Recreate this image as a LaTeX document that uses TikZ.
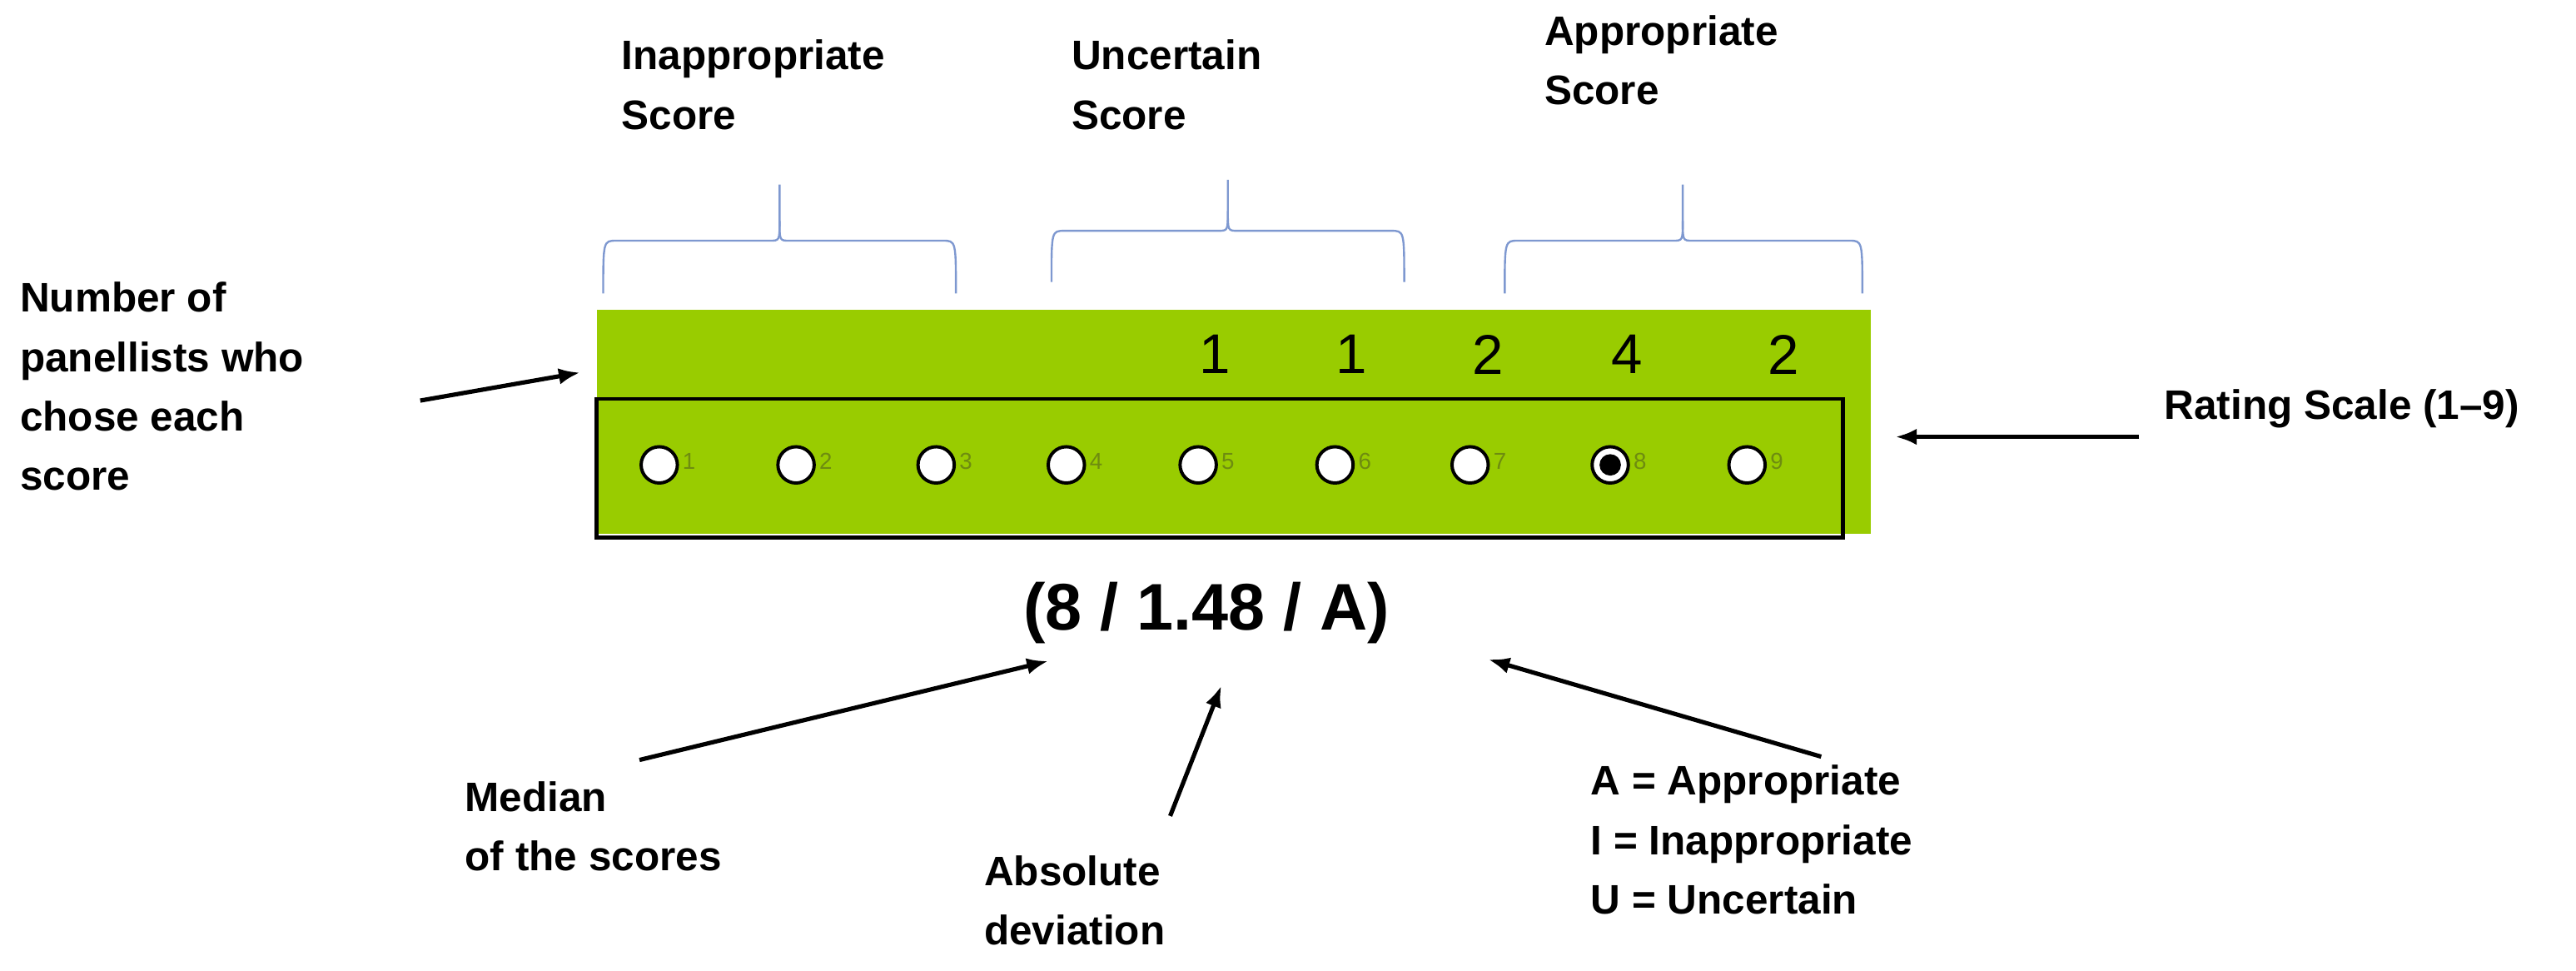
\documentclass[tikz,border=0pt]{standalone}
\usepackage{fontspec}
\setmainfont{Liberation Sans}
\usetikzlibrary{arrows.meta}
\definecolor{grn}{HTML}{99CC00}
\definecolor{brc}{HTML}{7E98D0}
\definecolor{lbl}{HTML}{6E8C10}
\begin{document}
\begin{tikzpicture}[x=1pt,y=-1pt,
  lab/.style={font=\fontsize{25}{36}\selectfont\bfseries,align=left,inner sep=0pt},
  arr/.style={line width=2.6pt,-{Latex[length=13pt,width=10pt]}},
  brace/.style={draw=brc,line width=1.2pt},
  cnt/.style={font=\fontsize{34}{34}\selectfont,inner sep=0pt},
  dot/.style={circle,draw=black,line width=2pt,fill=white,minimum size=22pt,inner sep=0pt},
  num/.style={font=\fontsize{14}{14}\selectfont,text=lbl,inner sep=0pt}]
\useasboundingbox (0,0) rectangle (1563,589);
% green bar
\fill[grn] (362,188) rectangle (1135,324);
\draw[line width=2.4pt] (362,242) rectangle (1118,326);
% counts
\foreach \x/\n/\i in {737/1/a,820/1/b,903/2/c,987/4/d,1082/2/e}
  \node[cnt] (c\i) at (\x,215) {\n};
% circles
\foreach \x/\i in {400/1,483/2,568/3,647/4,727/5,810/6,892/7,977/8,1060/9}{
  \node[dot] (d\i) at (\x,282) {};
  \node[num,anchor=west] (n\i) at (\x+14,280) {\i};
}
\fill (d8.center) circle (6.5pt);
% braces
\foreach \a/\m/\b/\l/\t/\e in {366/473/580/146/112/178, 638/745/852/140/109/171, 913/1021/1130/146/112/178}{
  \draw[brace] (\a,\e) .. controls (\a,\l) .. (\a+8,\l) -- (\m-6,\l) .. controls (\m,\l) .. (\m,\l-12) -- (\m,\t);
  \draw[brace] (\b,\e) .. controls (\b,\l) .. (\b-8,\l) -- (\m+6,\l) .. controls (\m,\l) .. (\m,\l-12);
}
% headings
\node[lab,anchor=north west] (h1) at (377,24) {Inappropriate\\Score};
\node[lab,anchor=north west] (h2) at (650,24) {Uncertain\\Score};
\node[lab,anchor=north west] (h3) at (937,9) {Appropriate\\Score};
% left label
\node[lab,anchor=north west] (pn) at (12,171) {Number of\\panellists who\\chose each\\score};
\coordinate (pa) at (255,243);
\coordinate (pb) at (352,226);
\draw[arr] (pa) -- (pb);
% rating scale
\node[lab,anchor=west] (rs) at (1313,248) {Rating Scale (1–9)};
\coordinate (ra) at (1298,265);
\coordinate (rb) at (1150,265);
\draw[arr] (ra) -- (rb);
% result
\node[font=\fontsize{40}{40}\selectfont\bfseries,inner sep=0pt] (res) at (732,372) {(8 / 1.48 / A)};
% bottom labels
\node[lab,anchor=north west] (md) at (282,474) {Median\\of the scores};
\node[lab,anchor=north west] (ad) at (597,519) {Absolute\\deviation};
\node[lab,anchor=north west] (lg) at (965,464) {A = Appropriate\\I = Inappropriate\\U = Uncertain};
\coordinate (m1) at (388,461); \coordinate (m2) at (636,401);
\coordinate (a1) at (710,495); \coordinate (a2) at (741,416);
\coordinate (l1) at (1105,459); \coordinate (l2) at (903,400);
\draw[arr] (m1) -- (m2);
\draw[arr] (a1) -- (a2);
\draw[arr] (l1) -- (l2);
\end{tikzpicture}
\end{document}
